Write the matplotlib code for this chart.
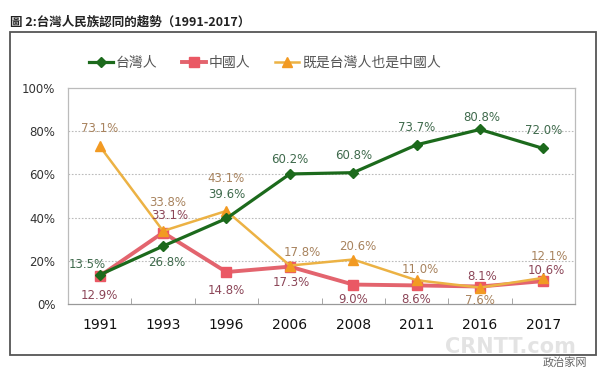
import matplotlib
matplotlib.use("Agg")
import matplotlib.pyplot as plt
from matplotlib.patches import Rectangle

plt.rcParams['font.family'] = ['DejaVu Sans', 'Noto Sans CJK TC']

years = ['1991', '1993', '1996', '2006', '2008', '2011', '2016', '2017']
taiwanese = [13.5, 26.8, 39.6, 60.2, 60.8, 73.7, 80.8, 72.0]
chinese = [12.9, 33.1, 14.8, 17.3, 9.0, 8.6, 8.1, 10.6]
both = [73.1, 33.8, 43.1, 17.8, 20.6, 11.0, 7.6, 12.1]
names = ['台灣人', '中國人', '既是台灣人也是中國人']

# label offsets in pixels (dx, dy) per point
off_tw = [(-12, 10), (4, -16), (0, 24), (0, 14), (0, 17), (0, 17), (2, 12), (0, 18)]
off_cn = [(0, -19), (7, 17), (0, -18), (1, -16), (0, -15), (0, -14), (2, 10), (3, 11)]
off_both = [(0, 18), (5, 28), (0, 32), (12, 13), (5, 13), (4, 11), (0, -13), (6, 21)]

fig = plt.figure(figsize=(6, 3.72), dpi=100)
ax = fig.add_axes([68 / 600, 1 - 304 / 372, 507 / 600, 216 / 372])

x = list(range(len(years)))
green, red, orange = '#1c6a1c', '#e3646e', '#ecb244'

l1, = ax.plot(x, taiwanese, color=green, lw=2.3, marker='D', ms=5, zorder=4)
l2, = ax.plot(x, chinese, color=red, lw=2.8, marker='s', ms=7,
              markerfacecolor='#ea5864', markeredgecolor='#ea5864', zorder=3)
l3, = ax.plot(x, both, color=orange, lw=1.8, marker='^', ms=7,
              markerfacecolor='#f29a22', markeredgecolor='#f29a22', zorder=3)

def put_labels(vals, offs, col):
    for i, v in enumerate(vals):
        dx, dy = offs[i]
        ax.annotate(f'{v:.1f}%', (i, v), xytext=(dx * 0.72, dy * 0.72),
                    textcoords='offset points', ha='center', va='center',
                    fontsize=8.5, color=col, zorder=6)

put_labels(taiwanese, off_tw, '#3f6a4c')
put_labels(chinese, off_cn, '#8c4658')
put_labels(both, off_both, '#a8835e')

ax.set_xlim(-0.5, len(years) - 0.5)
ax.set_ylim(0, 100)
ax.set_yticks([0, 20, 40, 60, 80, 100])
ax.set_yticklabels(['0%', '20%', '40%', '60%', '80%', '100%'], fontsize=8.5, color='#333333')
ax.set_xticks(x)
ax.set_xticklabels(years, fontsize=10, color='#111111')
ax.set_xticks([i + 0.5 for i in range(len(years) - 1)], minor=True)
ax.tick_params(axis='x', which='major', length=0, pad=10)
ax.tick_params(axis='x', which='minor', direction='in', length=4, color='#999999')
ax.tick_params(axis='y', length=0, pad=9)
for y in [20, 40, 60, 80]:
    ax.axhline(y, color='#bbbbbb', lw=0.8, ls=(0, (1.5, 1.5)), zorder=1)
for s in ax.spines.values():
    s.set_color('#bbbbbb')
    s.set_linewidth(0.9)
ax.spines['bottom'].set_color('#999999')

fig.legend([l1, l2, l3], names, loc='center', bbox_to_anchor=(265 / 600, 1 - 63 / 372),
           ncol=3, frameon=False, labelcolor='#555555',
           handlelength=1.7, columnspacing=1.8, handletextpad=0.2,
           prop={'family': 'Noto Sans CJK TC', 'size': 10})

fig.patches.append(Rectangle((10 / 600, 1 - 355 / 372), 586 / 600, 323 / 372,
                             transform=fig.transFigure, fill=False,
                             edgecolor='#555555', lw=1.3))

fig.text(10 / 600, 1 - 22 / 372, '圖 2:台灣人民族認同的趨勢（1991-2017）',
         family='Noto Sans CJK TC', fontweight='bold', fontsize=9, color='#222222',
         va='center', ha='left')

fig.text(510 / 600, 1 - 347 / 372, 'CRNTT.com', fontsize=15, fontweight='bold',
         color='#d8d8d8', alpha=0.7, ha='center', va='center')
fig.text(565 / 600, 1 - 362 / 372, '政治家网', family='Noto Sans CJK SC',
         fontsize=8, color='#666666', ha='center', va='center')

fig.savefig('out.png', dpi=100)
